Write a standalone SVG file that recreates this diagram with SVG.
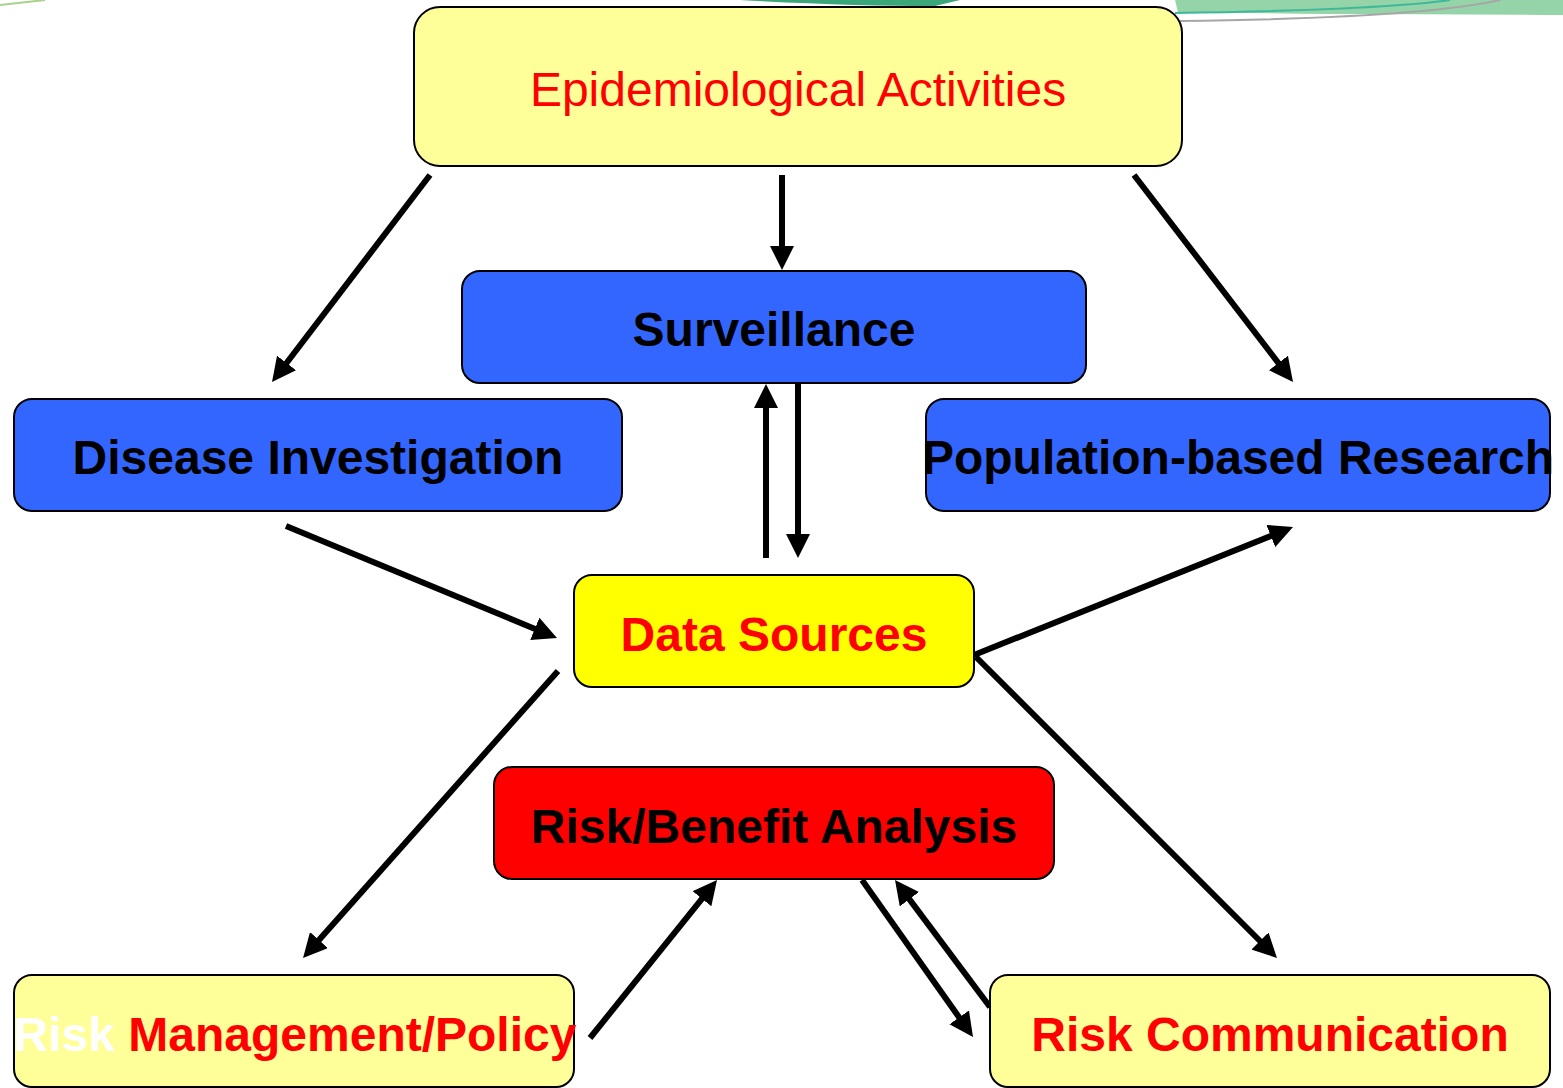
<svg xmlns="http://www.w3.org/2000/svg" width="1563" height="1088" viewBox="0 0 1563 1088">
<defs>
<marker id="ah" markerUnits="userSpaceOnUse" markerWidth="24" markerHeight="24" viewBox="0 0 24 24" refX="12" refY="12" orient="auto">
<path d="M0,0 L24,12 L0,24 Z" fill="#000"/>
</marker>
</defs>
<style>
.box{stroke:#000;stroke-width:2}
.t{font-family:"Liberation Sans",Arial,sans-serif;font-size:48px;text-anchor:middle}
.b{font-weight:bold}
.c{stroke:#000;stroke-width:6;fill:none;marker-end:url(#ah)}
</style>
<rect width="1563" height="1088" fill="#fff"/>
<g id="decor">
<path d="M0,5 L45,0" stroke="#a9d18e" stroke-width="2" fill="none"/>
<path d="M740,0 Q850,6 935,6 L960,0 Z" fill="#3aa67a"/>
<path d="M1175,0 L1563,0 L1563,15 Q1420,14 1330,14 Q1250,13 1178,12 Z" fill="#94d4a8"/>
<path d="M1175,13 Q1380,10 1450,0" stroke="#3fb89a" stroke-width="2" fill="none"/>
<path d="M1180,21 Q1420,18 1500,0" stroke="#a6a6a6" stroke-width="2" fill="none"/>
</g>
<g id="connectors">
<line class="c" x1="430" y1="175" x2="279.3" y2="372.5"/>
<line class="c" x1="782" y1="175" x2="782" y2="258"/>
<line class="c" x1="1134" y1="175" x2="1285.7" y2="372.5"/>
<line class="c" x1="766" y1="558" x2="766" y2="396"/>
<line class="c" x1="798" y1="384" x2="798" y2="546"/>
<line class="c" x1="286" y1="526" x2="545.9" y2="633.4"/>
<line class="c" x1="974" y1="655" x2="1281.9" y2="531.5"/>
<line class="c" x1="558" y1="671" x2="311" y2="949"/>
<line class="c" x1="976" y1="657" x2="1268.5" y2="949.5"/>
<line class="c" x1="590" y1="1038" x2="709.5" y2="889.4"/>
<line class="c" x1="862" y1="880" x2="966.1" y2="1027.2"/>
<line class="c" x1="990" y1="1007" x2="902.2" y2="889.6"/>
</g>
<g id="epi">
<rect class="box" x="414" y="7" width="768" height="159" rx="26" fill="#ffff99"/>
<text class="t" x="798" y="106" fill="#ff0000">Epidemiological Activities</text>
</g>
<g id="surveillance">
<rect class="box" x="462" y="271" width="624" height="112" rx="18" fill="#3366ff"/>
<text class="t b" x="774" y="346" fill="#000">Surveillance</text>
</g>
<g id="disease">
<rect class="box" x="14" y="399" width="608" height="112" rx="18" fill="#3366ff"/>
<text class="t b" x="318" y="474" fill="#000">Disease Investigation</text>
</g>
<g id="population">
<rect class="box" x="926" y="399" width="624" height="112" rx="18" fill="#3366ff"/>
<text class="t b" x="1238" y="474" fill="#000">Population-based Research</text>
</g>
<g id="data">
<rect class="box" x="574" y="575" width="400" height="112" rx="18" fill="#ffff00"/>
<text class="t b" x="774" y="651" fill="#ff0000">Data Sources</text>
</g>
<g id="riskbenefit">
<rect class="box" x="494" y="767" width="560" height="112" rx="18" fill="#ff0000"/>
<text class="t b" x="774" y="843" fill="#000">Risk/Benefit Analysis</text>
</g>
<g id="riskmgmt">
<rect class="box" x="14" y="975" width="560" height="112" rx="18" fill="#ffff99"/>
<text class="t b" x="295" y="1051"><tspan fill="#ffffff">Risk </tspan><tspan fill="#ff0000">Management/Policy</tspan></text>
</g>
<g id="riskcomm">
<rect class="box" x="990" y="975" width="560" height="112" rx="18" fill="#ffff99"/>
<text class="t b" x="1270" y="1051" fill="#ff0000">Risk Communication</text>
</g>
</svg>
